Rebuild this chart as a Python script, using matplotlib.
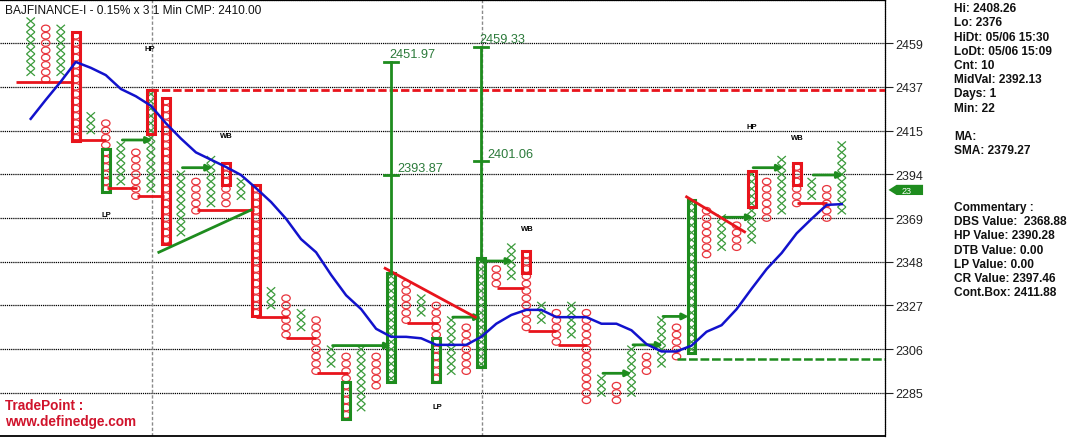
import matplotlib
matplotlib.use("Agg")
import matplotlib.pyplot as plt
from matplotlib.collections import LineCollection
from matplotlib.patches import Ellipse, Rectangle, Polygon
from matplotlib.transforms import blended_transform_factory

plt.rcParams['font.family'] = ['Liberation Sans', 'DejaVu Sans']

# ========== DATA (y in box units, x = column number) ==========
first_type = "X"
col_low = [44, 43, 44, 35, 36, 28, 29, 27, 28, 21, 22, 25, 26, 26, 27, 11, 12, 8, 9, 3,
           4, -3, -2, 1, 2, 10, 11, 2, 3, 3, 4, 15, 16, 9, 10, 7, 8, -1, 0, -1,
           0, 3, 4, 5, 6, 19, 20, 20, 21, 24, 25, 26, 27, 24, 25]
col_high = [51, 50, 50, 49, 38, 37, 34, 33, 41, 40, 30, 29, 32, 31, 29, 28, 14, 13, 11, 10,
            6, 5, 6, 5, 16, 15, 13, 12, 10, 9, 18, 17, 20, 19, 12, 11, 12, 11, 2, 1,
            6, 5, 10, 9, 26, 25, 24, 23, 30, 29, 32, 31, 29, 28, 34]

# highlighted boxes: (column, low box, high box)
red_boxes = [(3, 35, 49), (8, 36, 41), (9, 21, 40), (13, 29, 31), (15, 11, 28),
             (33, 17, 19), (48, 26, 30), (51, 29, 31)]
green_boxes = [(5, 28, 33), (21, -3, 1), (24, 2, 16), (27, 2, 7), (30, 4, 18), (44, 6, 26)]

# horizontal lines: (from col, to col, level)
red_lines = [(-0.95, 2.8, 42.7), (2.75, 5.0, 34.7), (5.1, 7.1, 28.1), (7.1, 8.85, 27.0),
             (11.05, 14.85, 25.1), (15.0, 17.1, 10.4), (17.0, 19.0, 7.6), (19.05, 21.1, 2.7),
             (25.05, 27.1, 9.6), (31.05, 32.85, 14.4), (33.1, 34.95, 8.5), (35.1, 37.05, 6.6),
             (51.05, 53.05, 26.1)]
green_lines = [(6.1, 8.1, 34.7), (10.1, 12.1, 30.9), (20.1, 24.0, 6.5), (28.1, 30.0, 10.4),
               (30.0, 32.1, 18.1), (38.1, 40.0, 2.7), (40.1, 42.1, 6.6), (42.1, 43.8, 10.5),
               (46.1, 48.1, 24.1), (48.1, 50.1, 30.9), (52.1, 54.1, 29.9)]

# trend lines: (x0, y0, x1, y1)
green_trend = [(8.53, 19.3, 14.67, 25.1)]
red_trend = [(23.6, 17.1, 29.6, 10.4), (43.67, 26.9, 47.53, 22.1)]

# dashed levels: (from col, level)
red_dashed = (7.95, 41.6)
green_dashed = (43.05, 4.6)

# session separators
separators = [8.05, 30.05]

# moving average (one value per column)
ma = [37.6, 40.2, 42.7, 45.4, 44.6, 43.6, 41.7, 40.7, 39.4, 37.0,
      34.9, 33.0, 32.0, 31.0, 29.9, 28.1, 26.2, 23.9, 21.1, 19.3,
      16.2, 13.4, 11.5, 8.8, 7.7, 7.7, 7.5, 6.6, 6.6, 6.6,
      7.7, 9.5, 10.7, 11.4, 11.4, 10.4, 10.4, 10.4, 9.5, 9.5,
      8.6, 6.7, 5.7, 5.7, 6.5, 8.4, 9.3, 11.5, 14.3, 17.0,
      19.2, 21.9, 23.9, 25.8, 25.9]

# vertical count targets: (column, top level, mid level, top label, mid label)
targets = [(24, 45.4, 29.9, "2451.97", "2393.87"),
           (30, 47.4, 31.8, "2459.33", "2401.06")]

# pattern labels: (text, col, level)
pattern_labels = [("HP", 7.95, 47.3), ("LP", 5.05, 24.5), ("WB", 13.0, 35.3),
                  ("WB", 33.05, 22.5), ("LP", 27.05, -1.9), ("HP", 48.0, 36.5),
                  ("WB", 51.05, 35.1)]

ytick_pos = [0, 6, 12, 18, 24, 30, 36, 42, 48]
ytick_labels = ["2285", "2306", "2327", "2348", "2369", "2394", "2415", "2437", "2459"]

title = "BAJFINANCE-I - 0.15% x 3 1 Min CMP: 2410.00"
info_lines = ["Hi: 2408.26", "Lo: 2376", "HiDt: 05/06 15:30", "LoDt: 05/06 15:09",
              "Cnt: 10", "MidVal: 2392.13", "Days: 1", "Min: 22", "",
              "MA:", "SMA: 2379.27", "", "", "", "Commentary :",
              "DBS Value:  2368.88", "HP Value: 2390.28", "DTB Value: 0.00",
              "LP Value: 0.00", "CR Value: 2397.46", "Cont.Box: 2411.88"]
last_tag = ("23_", 27.85)

# ========== STYLE ==========
X_COL = "#3a9a3a"
O_COL = "#e8343c"
RED = "#e8141c"
GREEN = "#1e8c1e"
BLUE = "#1212cc"
TXT_GREEN = "#2b7a3a"
DOT = (0, (1, 0.7))

W, H = 1069, 439
fig = plt.figure(figsize=(W / 100, H / 100), dpi=100)
ax = fig.add_axes([0, 2 / H, 885 / W, 436 / H])
ax.set_xlim(-2.044, 56.88)
ax.set_ylim(-5.9, 53.9)

# grid
for k in ytick_pos:
    ax.axhline(k, color="black", lw=0.9, ls=DOT, zorder=0)
for s in separators:
    ax.axvline(s, color="#8a8a8a", lw=1, ls=(0, (2.4, 1.5)), zorder=1)

# X and O columns
segs = []
for i, (lo, hi) in enumerate(zip(col_low, col_high)):
    is_x = (i % 2 == 0) == (first_type == "X")
    for k in range(lo, hi + 1):
        if is_x:
            segs.append([(i - 0.28, k - 0.5), (i + 0.28, k + 0.5)])
            segs.append([(i - 0.28, k + 0.5), (i + 0.28, k - 0.5)])
        else:
            ax.add_patch(Ellipse((i, k), 0.56, 0.9, fill=False, ec=O_COL, lw=0.9, zorder=2))
ax.add_collection(LineCollection(segs, colors=X_COL, linewidths=0.9, zorder=2))

for boxes, c in ((red_boxes, RED), (green_boxes, GREEN)):
    for col, lo, hi in boxes:
        ax.add_patch(Rectangle((col - 0.26, lo - 0.5), 0.52, hi - lo + 1,
                               fill=False, ec=c, lw=2.2, zorder=3))

# support / resistance lines
for x0, x1, k in red_lines:
    ax.plot([x0, x1], [k, k], color=RED, lw=2, zorder=4, solid_capstyle="butt")
for x0, x1, k in green_lines:
    ax.annotate("", xy=(x1, k), xytext=(x0, k),
                arrowprops=dict(arrowstyle="-|>,head_length=0.35,head_width=0.18",
                                color=GREEN, lw=2, shrinkA=0, shrinkB=0), zorder=4)
for x0, y0, x1, y1 in green_trend:
    ax.plot([x0, x1], [y0, y1], color=GREEN, lw=2, zorder=4)
for x0, y0, x1, y1 in red_trend:
    ax.plot([x0, x1], [y0, y1], color=RED, lw=2, zorder=4)

ax.plot([red_dashed[0], 60], [red_dashed[1]] * 2, color=RED, lw=2, ls=(0, (3, 1.1)), zorder=4)
ax.plot([green_dashed[0], 60], [green_dashed[1]] * 2, color=GREEN, lw=1.8, ls=(0, (3.5, 1.1)), zorder=4)

# moving average
ax.plot(range(len(ma)), ma, color=BLUE, lw=1.8, zorder=5)

# count targets
for col, top, mid, top_lbl, mid_lbl in targets:
    base = col_high[col] + 0.5
    ax.plot([col, col], [base, top], color=GREEN, lw=2, zorder=4)
    for k in (top, mid):
        ax.plot([col - 0.47, col + 0.47], [k, k], color=GREEN, lw=2, zorder=4)
    ax.text(col - 0.1, top + 1.15, top_lbl, color=TXT_GREEN, fontsize=9.2,
            ha="left", va="center", zorder=6)
    ax.text(col + 0.4, mid + 1.0, mid_lbl, color=TXT_GREEN, fontsize=9.2,
            ha="left", va="center", zorder=6)

for t, c, k in pattern_labels:
    ax.text(c, k, t, fontsize=5.5, fontweight="bold", ha="center", va="center", zorder=6)

# axes look
ax.set_xticks([])
ax.yaxis.tick_right()
ax.set_yticks(ytick_pos)
ax.set_yticklabels(ytick_labels)
ax.tick_params(axis="y", length=5.8, width=0.8, pad=1.5, labelsize=9, colors="#222222")
ax.spines["left"].set_visible(False)
for sp in ("top", "right"):
    ax.spines[sp].set_linestyle(DOT)
    ax.spines[sp].set_linewidth(0.9)
ax.spines["bottom"].set_linewidth(1.3)

# last value tag on the axis
tr = blended_transform_factory(ax.transAxes, ax.transData)
tag_k = last_tag[1]
ax.add_patch(Polygon([(1.004, tag_k), (1.013, tag_k + 0.7), (1.043, tag_k + 0.7),
                      (1.043, tag_k - 0.7), (1.013, tag_k - 0.7)], closed=True,
                     transform=tr, fc="#1e8c1e", ec="none", clip_on=False))
ax.text(1.027, tag_k, last_tag[0], transform=tr, color="white", fontsize=6.5,
        ha="center", va="center", clip_on=False)

# texts
fig.text(5 / W, 1 - 11 / H, title, fontsize=8.6, ha="left", va="center", color="#111111")
fig.text(5 / W, 1 - 406 / H, "TradePoint :", fontsize=9.8, fontweight="bold",
         color="#d0142c", ha="left", va="center")
fig.text(5 / W, 1 - 422 / H, "www.definedge.com", fontsize=9.8, fontweight="bold",
         color="#d0142c", ha="left", va="center")
for n, line in enumerate(info_lines):
    if line:
        fig.text(954 / W, 1 - (9.3 + 14.2 * n) / H, line, fontsize=8.6,
                 fontweight="bold", ha="left", va="center", color="#111111")

fig.savefig("out.png", dpi=100)
